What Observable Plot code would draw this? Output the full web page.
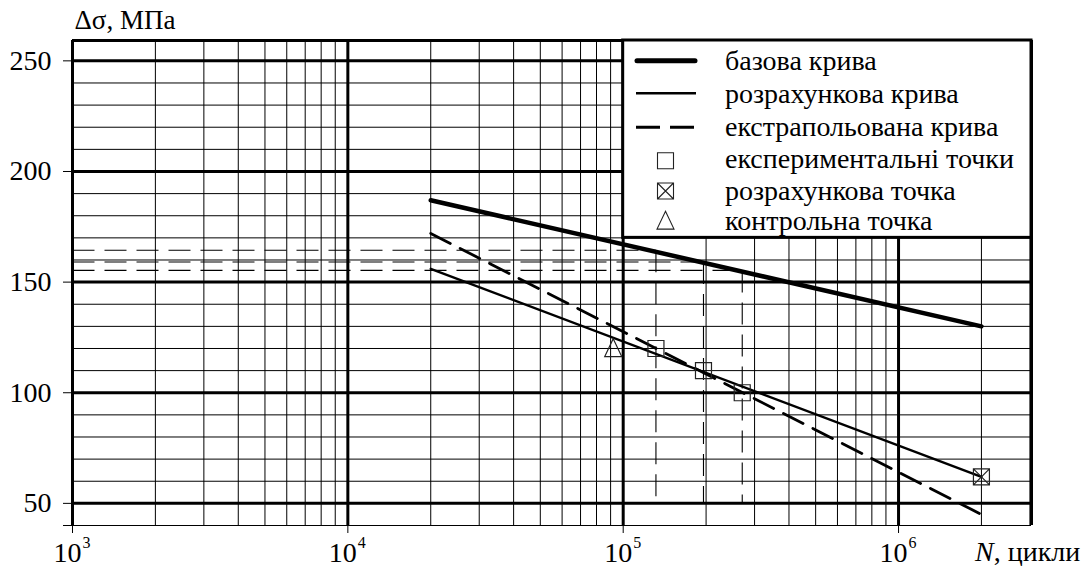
<!DOCTYPE html>
<html><head><meta charset="utf-8">
<script src="https://cdn.jsdelivr.net/npm/d3@7"></script>
<script src="https://cdn.jsdelivr.net/npm/@observablehq/plot@0.6"></script>
<style>
body{margin:0;background:#fff}
svg{display:block}
</style>
</head><body><div id="chart"></div>
<script>
// ---- data ----
const curveN = [2e4, 2e6];
const baseS = [187, 130];      // базова крива
const calcS = [156, 62];       // розрахункова крива
const extrapS = [172, 45];     // екстрапольована крива
const expN = [1.315e5, 1.957e5, 2.706e5];   // експериментальні точки
const expS = [120, 110, 100];
const guideS = [164.4, 159.1, 155.3];       // levels on the base curve
const calcPtN = [2e6], calcPtS = [62];      // розрахункова точка
const ctrlN = [9.2e4], ctrlS = [120];       // контрольна точка
const xTicks = [1e3, 1e4, 1e5, 1e6];
const xTickExp = ["3", "4", "5", "6"];
const yTicks = [40, 50, 100, 150, 200, 250];
const yMajor = [50, 100, 150, 200, 250];
const yMinor = d3.range(40, 251, 10);
const xMax = 3.04e6, yMin = 40, yMax = 259.2;
const xMinor = [];
for (const d of [3, 4, 5, 6]) for (let k = 2; k <= 9; k++) { const v = k * 10 ** d; if (v <= xMax) xMinor.push(v); }
const legendLabels = ["базова крива", "розрахункова крива", "екстрапольована крива",
  "експериментальні точки", "розрахункова точка", "контрольна точка"];

const FONT = "Liberation Serif";

// custom symbols (r = half size)
const rOf = size => Math.sqrt(size / Math.PI);
const squareSym = { draw(c, size) { const r = rOf(size); c.rect(-r, -r, 2 * r, 2 * r); } };
const xSquareSym = { draw(c, size) { const r = rOf(size); c.rect(-r, -r, 2 * r, 2 * r);
  c.moveTo(-r, -r); c.lineTo(r, r); c.moveTo(r, -r); c.lineTo(-r, r); } };
const triSym = { draw(c, size) { const r = rOf(size); c.moveTo(0, -1.15 * r); c.lineTo(r, 0.95 * r); c.lineTo(-r, 0.95 * r); c.closePath(); } };

const lineData = (s) => curveN.map((n, i) => ({ n, s: s[i] }));
const expData = expN.map((n, i) => ({ n, s: expS[i], g: guideS[i] }));

const svg = Plot.plot({
  width: 1088, height: 566,
  marginLeft: 72, marginRight: 57, marginTop: 40, marginBottom: 41,
  style: { fontFamily: FONT, background: "#fff", color: "#000" },
  x: { type: "log", domain: [1e3, xMax] },
  y: { domain: [yMin, yMax] },
  marks: [
    Plot.ruleX(xMinor, { y1: yMin, y2: yMax, stroke: "#000", strokeWidth: 1 }),
    Plot.ruleY(yMinor, { x1: 1e3, x2: xMax, stroke: "#000", strokeWidth: 1 }),
    Plot.ruleX(xTicks, { y1: yMin, y2: yMax, stroke: "#000", strokeWidth: 3 }),
    Plot.ruleY(yMajor, { x1: 1e3, x2: xMax, stroke: "#000", strokeWidth: 3 }),
    Plot.ruleX([xMax], { y1: yMin, y2: yMax, stroke: "#000", strokeWidth: 3 }),
    Plot.ruleY([yMax], { x1: 1e3, x2: xMax, stroke: "#000", strokeWidth: 3 }),
    // legend box
    Plot.rect([0], { x1: () => 1e5, x2: () => xMax, y1: () => 170, y2: () => yMax, fill: "#fff", stroke: "#000", strokeWidth: 3 }),
    // guide dashed lines
    Plot.link(expData, { x1: () => 1e3, x2: "n", y1: "g", y2: "g", stroke: "#000", strokeWidth: 1.1, strokeDasharray: "22,10" }),
    Plot.link(expData, { x1: "n", x2: "n", y1: "g", y2: () => 50, stroke: "#000", strokeWidth: 1.1, strokeDasharray: "22,10" }),
    // curves
    Plot.line(lineData(baseS), { x: "n", y: "s", stroke: "#000", strokeWidth: 4.5 }),
    Plot.line(lineData(calcS), { x: "n", y: "s", stroke: "#000", strokeWidth: 2.4 }),
    Plot.line(lineData(extrapS), { x: "n", y: "s", stroke: "#000", strokeWidth: 2.8, strokeDasharray: "22,11" }),
    // points
    Plot.dot(expData, { x: "n", y: "s", symbol: squareSym, r: 8, stroke: "#222", strokeWidth: 1.2, fill: "none" }),
    Plot.dot(calcPtN.map((n, i) => ({ n, s: calcPtS[i] })), { x: "n", y: "s", symbol: xSquareSym, r: 8, stroke: "#222", strokeWidth: 1.2, fill: "none" }),
    Plot.dot(ctrlN.map((n, i) => ({ n, s: ctrlS[i] })), { x: "n", y: "s", symbol: triSym, r: 8.5, stroke: "#222", strokeWidth: 1.2, fill: "none" }),
    // axes
    Plot.axisY({ ticks: yTicks, tickSize: 9, tickPadding: 12, fontSize: 28, tickFormat: d => d === 40 ? "" : String(d), label: null }),
    Plot.axisX({ ticks: xTicks, tickSize: 8, tickFormat: () => "", label: null }),
    Plot.text(xTicks, { x: d => d, frameAnchor: "bottom", text: () => "10", textAnchor: "end", lineAnchor: "bottom", dx: 9, dy: 36, fontSize: 28, fill: "#000" }),
    Plot.text(xTicks, { x: d => d, frameAnchor: "bottom", text: (d, i) => xTickExp[i], textAnchor: "start", lineAnchor: "bottom", dx: 10, dy: 22, fontSize: 16, fill: "#000" }),
    Plot.text(["Δσ, МПа"], { frameAnchor: "top-left", textAnchor: "start", lineAnchor: "bottom", dx: 2, dy: -12, fontSize: 27, fill: "#000" })
  ]
});

// x-axis title with italic N and legend entries
const g = d3.select(svg).append("g").attr("font-family", FONT).attr("fill", "#000").attr("text-anchor", "start");
const xl = g.append("text").attr("x", 975).attr("y", 561).attr("font-size", 28);
xl.append("tspan").attr("font-style", "italic").text("N");
xl.append("tspan").text(", цикли");

const legY = [60.7, 93.3, 127.3, 160.8, 191, 221];
const legBase = [70, 103.3, 135.5, 168.3, 199.5, 229.5];
const lx1 = 637, lx2 = 695, sx = 665.5, tx = 725;
g.append("line").attr("x1", lx1).attr("x2", lx2).attr("y1", legY[0]).attr("y2", legY[0]).attr("stroke", "#000").attr("stroke-width", 5).attr("stroke-linecap", "round");
g.append("line").attr("x1", lx1 - 1).attr("x2", lx2 + 1).attr("y1", legY[1]).attr("y2", legY[1]).attr("stroke", "#000").attr("stroke-width", 2.6);
g.append("line").attr("x1", lx1 - 1).attr("x2", lx2 + 1).attr("y1", legY[2]).attr("y2", legY[2]).attr("stroke", "#000").attr("stroke-width", 3).attr("stroke-dasharray", "24,10");
const sym = (s, r) => d3.symbol(s, Math.PI * r * r)();
g.append("path").attr("d", sym(squareSym, 8)).attr("transform", `translate(${sx},${legY[3]})`).attr("fill", "none").attr("stroke", "#222").attr("stroke-width", 1.1);
g.append("path").attr("d", sym(xSquareSym, 8)).attr("transform", `translate(${sx},${legY[4]})`).attr("fill", "none").attr("stroke", "#222").attr("stroke-width", 1.1);
g.append("path").attr("d", sym(triSym, 8.5)).attr("transform", `translate(${sx},${legY[5]})`).attr("fill", "none").attr("stroke", "#222").attr("stroke-width", 1.1);
legendLabels.forEach((t, i) => {
  g.append("text").attr("x", tx).attr("y", legBase[i]).attr("font-size", 28).text(t);
});

document.getElementById("chart").appendChild(svg);
</script>
</body></html>
